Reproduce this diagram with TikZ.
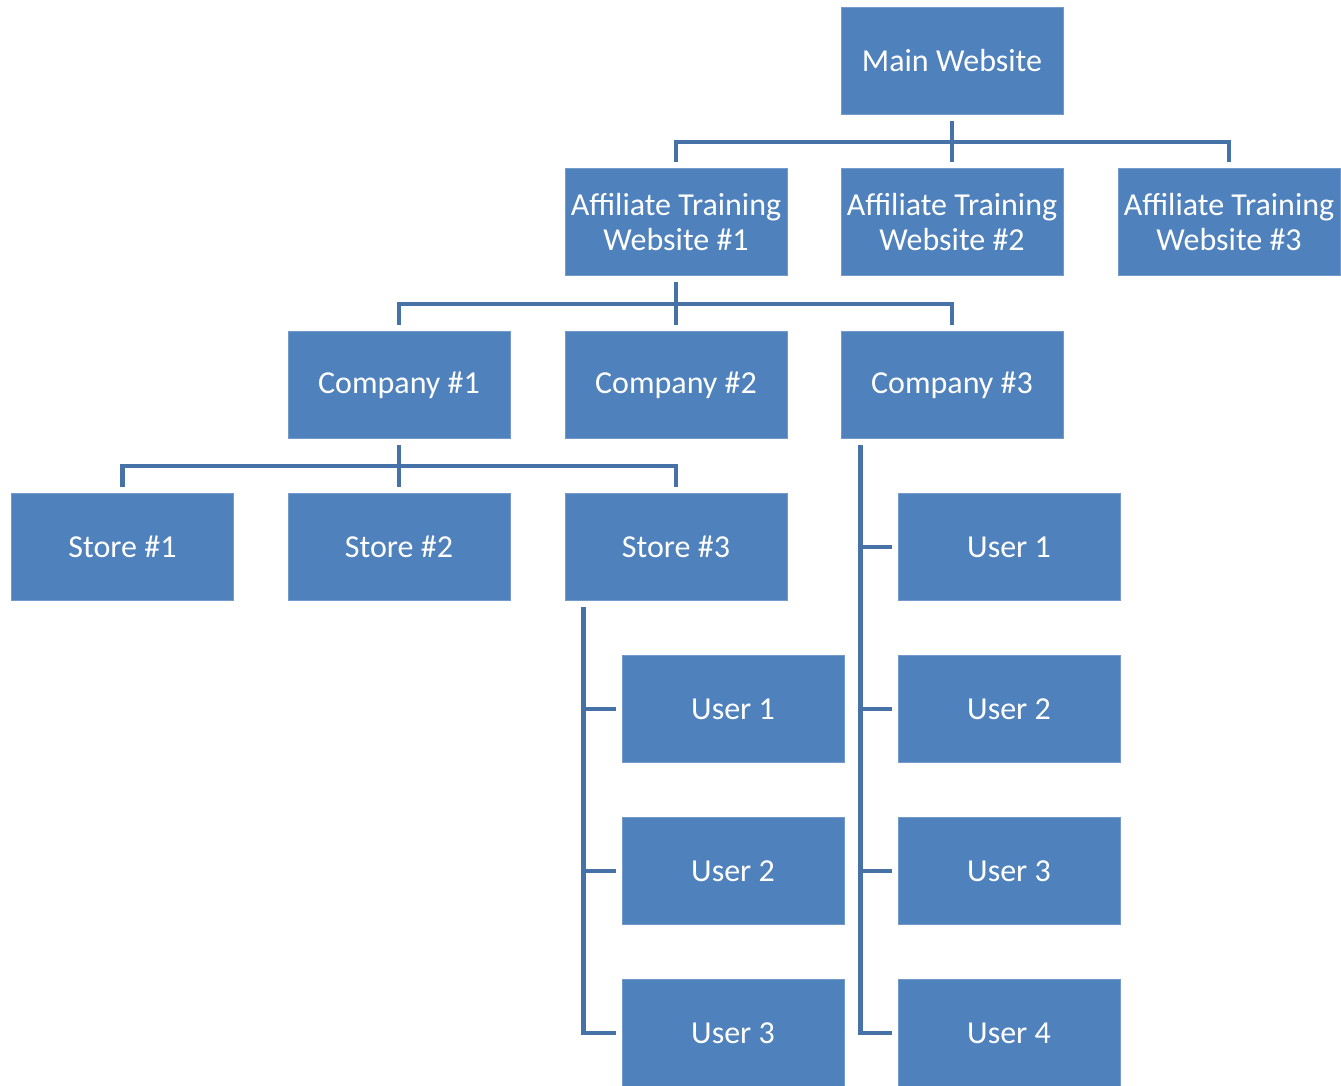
\documentclass[tikz,border=0pt]{standalone}
\usepackage{fontspec}
\setmainfont{Carlito}
\definecolor{boxfill}{HTML}{4F81BD}
\definecolor{linkcol}{HTML}{4672A8}
\begin{document}
\begin{tikzpicture}[x=1pt,y=-1pt,
  orgbox/.style={fill=boxfill, draw=boxfill!80!white, line width=0.8pt, minimum width=222pt, minimum height=107pt, inner sep=0pt, text=white, align=center, font=\fontsize{32}{35}\selectfont},
  link/.style={draw=linkcol, line width=4.5pt}]
\useasboundingbox (0,0) rectangle (1341,1086);
\node[orgbox] (main) at (952,60.5) {Main Website};
\node[orgbox] (aff1) at (676,222) {Affiliate Training\\Website \#1};
\node[orgbox] (aff2) at (952,222) {Affiliate Training\\Website \#2};
\node[orgbox] (aff3) at (1229,222) {Affiliate Training\\Website \#3};
\node[orgbox] (c1) at (399,385) {Company \#1};
\node[orgbox] (c2) at (676,385) {Company \#2};
\node[orgbox] (c3) at (952,385) {Company \#3};
\node[orgbox] (s1) at (122.5,547) {Store \#1};
\node[orgbox] (s2) at (399,547) {Store \#2};
\node[orgbox] (s3) at (676,547) {Store \#3};
\node[orgbox] (su1) at (733,709) {User 1};
\node[orgbox] (su2) at (733,871) {User 2};
\node[orgbox] (su3) at (733,1033) {User 3};
\node[orgbox] (cu1) at (1009,547) {User 1};
\node[orgbox] (cu2) at (1009,709) {User 2};
\node[orgbox] (cu3) at (1009,871) {User 3};
\node[orgbox] (cu4) at (1009,1033) {User 4};
% main -> affiliates
\coordinate (bus1) at (952,142);
\draw[link] ([yshift=6pt]aff1.north) |- (bus1) -| ([yshift=6pt]aff3.north);
\draw[link] ([yshift=-7pt]main.south) -- ([yshift=6pt]aff2.north);
% affiliate 1 -> companies
\coordinate (bus2) at (676,304);
\draw[link] ([yshift=6pt]c1.north) |- (bus2) -| ([yshift=6pt]c3.north);
\draw[link] ([yshift=-6pt]aff1.south) -- ([yshift=6pt]c2.north);
% company 1 -> stores
\coordinate (bus3) at (399,466);
\draw[link] ([yshift=6pt]s1.north) |- (bus3) -| ([yshift=6pt]s3.north);
\draw[link] ([yshift=-6pt]c1.south) -- ([yshift=6pt]s2.north);
% store 3 -> users
\coordinate (sp1) at ([xshift=19pt,yshift=-6pt]s3.south west);
\draw[link] (sp1) |- ([xshift=-6pt]su3.west);
\draw[link] (sp1 |- su1.west) -- ([xshift=-6pt]su1.west);
\draw[link] (sp1 |- su2.west) -- ([xshift=-6pt]su2.west);
% company 3 -> users
\coordinate (sp2) at ([xshift=20pt,yshift=-6pt]c3.south west);
\draw[link] (sp2) |- ([xshift=-6pt]cu4.west);
\draw[link] (sp2 |- cu1.west) -- ([xshift=-6pt]cu1.west);
\draw[link] (sp2 |- cu2.west) -- ([xshift=-6pt]cu2.west);
\draw[link] (sp2 |- cu3.west) -- ([xshift=-6pt]cu3.west);
\end{tikzpicture}
\end{document}
